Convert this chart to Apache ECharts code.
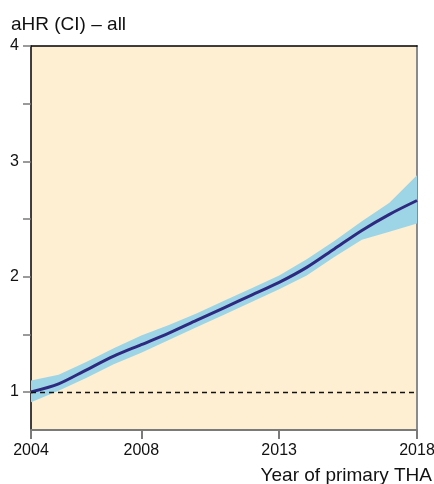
<!DOCTYPE html>
<html><head><meta charset="utf-8">
<script src="https://cdn.jsdelivr.net/npm/echarts@6/dist/echarts.min.js"></script>
<style>html,body{margin:0;padding:0;background:#fff}#c{width:434px;height:484px}</style>
</head><body><div id="c"></div>
<script>
const years = [2004,2005,2006,2007,2008,2009,2010,2011,2012,2013,2014,2015,2016,2017,2018];
const aHR   = [1.00,1.07,1.19,1.31,1.41,1.51,1.62,1.73,1.84,1.95,2.08,2.24,2.40,2.54,2.66];
const lower = [0.91,1.01,1.12,1.24,1.34,1.45,1.56,1.67,1.78,1.89,2.01,2.17,2.32,2.39,2.46];
const upper = [1.10,1.15,1.26,1.38,1.49,1.58,1.68,1.79,1.90,2.01,2.15,2.31,2.48,2.64,2.88];
const xTickLabels = [2004,2008,2013,2018];
const yTickLabels = [1,2,3,4];
const yTicks = [1,1.5,2,2.5,3,3.5,4];

const font = 'Liberation Sans, Arial, sans-serif';
const chart = echarts.init(document.getElementById('c'), null, {renderer:'canvas'});
chart.setOption({
  animation:false,
  title:{text:'aHR (CI) – all', left:11, top:15, padding:0, textStyle:{fontFamily:font, fontSize:19, fontWeight:'normal', color:'#111'}},
  grid:{left:31, right:17, top:46, bottom:54, show:true, backgroundColor:'#FEEFD3', borderWidth:0, outerBoundsMode:'none', containLabel:false},
  xAxis:[{
    type:'value', min:2004, max:2018, position:'bottom',
    name:'Year of primary THA', nameLocation:'end', nameGap:0,
    nameTextStyle:{fontFamily:font, fontSize:19, color:'#111', align:'right', verticalAlign:'top', padding:[36,-15,0,0]},
    axisLine:{show:true, lineStyle:{color:'#7a7a7a', width:2}},
    axisTick:{show:true, length:9, customValues:xTickLabels, lineStyle:{color:'#7a7a7a', width:2}},
    axisLabel:{customValues:xTickLabels, formatter:v=>String(v), margin:13, fontFamily:font, fontSize:16, color:'#111'},
    splitLine:{show:false}
  },{
    type:'value', min:2004, max:2018, position:'top',
    axisLine:{show:true, onZero:false, lineStyle:{color:'#000', width:1.5}},
    axisTick:{show:false}, axisLabel:{show:false}, splitLine:{show:false}
  }],
  yAxis:[{
    type:'value', min:0.67, max:4,
    axisLine:{show:true, lineStyle:{color:'#000', width:1.5}},
    axisTick:{show:true, length:8, customValues:yTicks, lineStyle:{color:'#7a7a7a', width:1.5}},
    axisLabel:{customValues:yTickLabels, formatter:v=>String(v), margin:12, fontFamily:font, fontSize:16, color:'#111'},
    splitLine:{show:false}
  },{
    type:'value', min:0.67, max:4, position:'right',
    axisLine:{show:true, onZero:false, lineStyle:{color:'#8a8a8a', width:2}},
    axisTick:{show:false}, axisLabel:{show:false}, splitLine:{show:false}
  }],
  series:[
    {type:'custom', silent:true, data:years.map((y,i)=>[y,lower[i],upper[i]]),
     encode:{x:0, y:[1,2]},
     renderItem:function(params, api){
       if (params.dataIndex !== 0) return null;
       const pts = [];
       for (let i=0;i<years.length;i++) pts.push(api.coord([years[i], upper[i]]));
       for (let i=years.length-1;i>=0;i--) pts.push(api.coord([years[i], lower[i]]));
       return {type:'polygon', shape:{points:pts}, style:{fill:'#9DD5E6', stroke:null}};
     }},
    {type:'line', data:years.map((y,i)=>[y,aHR[i]]), symbol:'none', smooth:0.3, lineStyle:{color:'#2E2A80', width:3},
     markLine:{silent:true, symbol:'none', label:{show:false}, lineStyle:{color:'#111', type:[5,4], width:1.3}, data:[{yAxis:1}]}}
  ]
});
</script></body></html>
